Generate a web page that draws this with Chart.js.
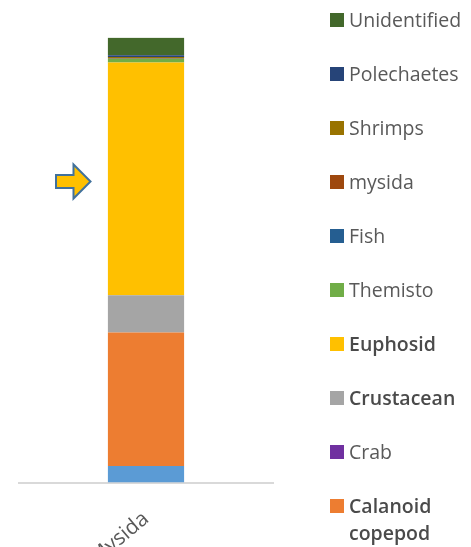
<!DOCTYPE html>
<html>
<head>
<meta charset="utf-8">
<script src="https://cdn.jsdelivr.net/npm/chart.js@4"></script>
<style>
html,body{margin:0;padding:0;background:#fff;overflow:hidden;}
canvas{display:block;}
</style>
</head>
<body>
<canvas id="c" width="471" height="547"></canvas>
<script>
// ---- data ----
const categories = ["Mysida"];
const seriesNames = ["Others", "Calanoid copepod", "Crab", "Crustacean", "Euphosid", "Themisto", "Fish", "mysida", "Shrimps", "Polechaetes", "Unidentified"];
const seriesValues = [3.7, 30.0, 0, 8.4, 52.3, 0.8, 0.05, 0.1, 0.3, 0.4, 4.0];
const seriesColors = ["#5B9BD5", "#ED7D31", "#7030A0", "#A5A5A5", "#FFC000", "#70AD47", "#255E91", "#9E480E", "#997300", "#264478", "#43682B"];
const boldLegend = ["Calanoid copepod", "Crustacean", "Euphosid"];

const datasets = seriesNames.map((n, i) => ({
  label: n,
  data: [seriesValues[i]],
  backgroundColor: seriesColors[i],
  borderWidth: 0,
  barPercentage: 0.6,
  categoryPercentage: 0.5
}));

const FONT = '"Open Sans", "Noto Sans", sans-serif';

const legendPlugin = {
  id: 'customLegend',
  afterDraw(chart) {
    const ctx = chart.ctx;
    ctx.save();
    const ds = chart.data.datasets;
    let y = 20;
    for (let i = ds.length - 1; i >= 0; i--) {
      const name = ds[i].label;
      ctx.fillStyle = ds[i].backgroundColor;
      ctx.fillRect(330, y - 7, 14, 14);
      const bold = boldLegend.includes(name);
      ctx.font = (bold ? '600 ' : '400 ') + '19.5px ' + FONT;
      ctx.fillStyle = bold ? '#4a4a4a' : '#595959';
      ctx.textBaseline = 'middle';
      ctx.textAlign = 'left';
      const lines = name === 'Calanoid copepod' ? ['Calanoid', 'copepod'] : [name];
      lines.forEach((l, k) => ctx.fillText(l, 349, y + 1 + k * 27));
      y += 54;
    }
    // block arrow annotation
    const cx = 56, cy = 181.5;
    ctx.beginPath();
    ctx.moveTo(cx, cy - 6.5);
    ctx.lineTo(cx + 17.5, cy - 6.5);
    ctx.lineTo(cx + 17.5, cy - 17);
    ctx.lineTo(cx + 34.5, cy);
    ctx.lineTo(cx + 17.5, cy + 17);
    ctx.lineTo(cx + 17.5, cy + 6.5);
    ctx.lineTo(cx, cy + 6.5);
    ctx.closePath();
    ctx.fillStyle = '#FFC000';
    ctx.fill();
    ctx.lineWidth = 2;
    ctx.strokeStyle = '#41719C';
    ctx.stroke();
    ctx.restore();
  }
};

new Chart(document.getElementById('c'), {
  type: 'bar',
  data: { labels: categories, datasets: datasets },
  options: {
    responsive: false,
    animation: false,
    layout: { padding: { left: 19, right: 198, top: 37.7, bottom: 0 } },
    plugins: { legend: { display: false }, tooltip: { enabled: false } },
    scales: {
      x: {
        stacked: true,
        grid: { display: false, drawTicks: false },
        border: { display: true, color: '#D9D9D9', width: 2 },
        ticks: {
          color: '#595959',
          font: { family: FONT, size: 21 },
          minRotation: 40, maxRotation: 40,
          padding: 24
        },
        afterFit(s) { s.height = 64.5; }
      },
      y: {
        stacked: true,
        display: false,
        min: 0, max: 100
      }
    }
  },
  plugins: [legendPlugin]
});
</script>
</body>
</html>
